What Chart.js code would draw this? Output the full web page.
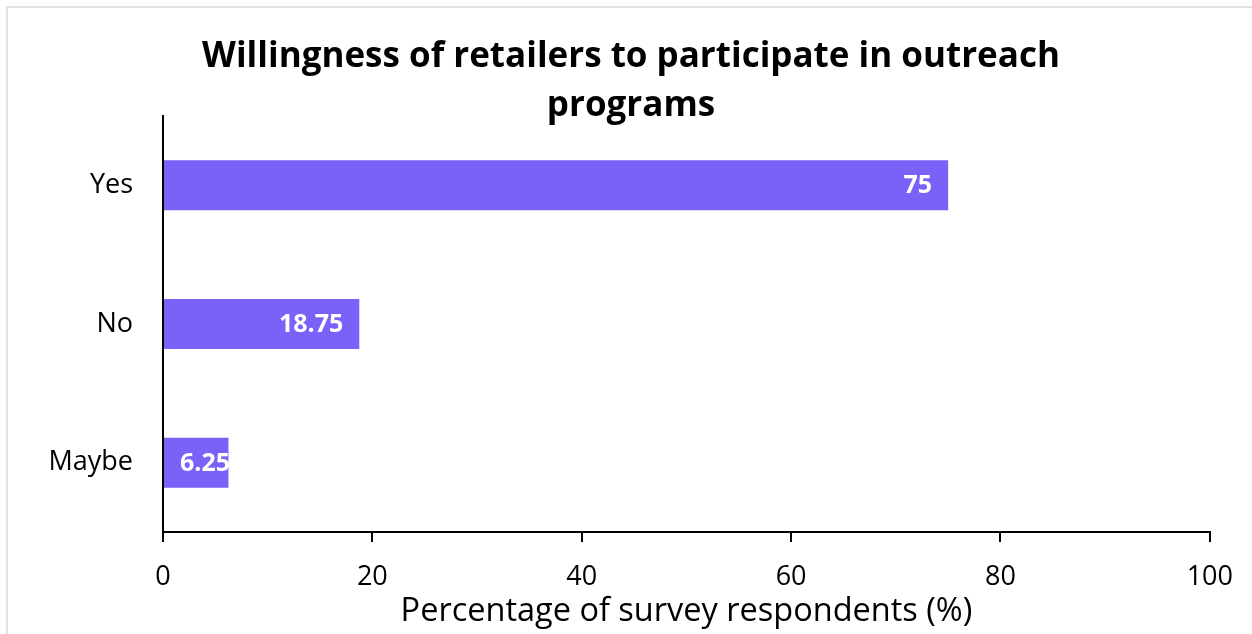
<!DOCTYPE html>
<html>
<head>
<meta charset="utf-8">
<script src="https://cdn.jsdelivr.net/npm/chart.js@4"></script>
<style>
html,body{margin:0;padding:0;background:#fff;}
#wrap{width:1252px;height:634px;position:relative;}
</style>
</head>
<body>
<div id="wrap"><canvas id="c" width="1252" height="634"></canvas></div>
<script>
const titleLines = ['Willingness of retailers to participate in outreach', 'programs'];
const categories = ['Yes', 'No', 'Maybe'];
const values = [75, 18.75, 6.25];
const xMin = 0, xMax = 100, xStep = 20;
const xTitle = 'Percentage of survey respondents (%)';
const barColor = '#7B61F7';
const FONT = '"Open Sans", sans-serif';

const framePlugin = {
  id: 'frame',
  beforeDraw(chart) {
    const ctx = chart.ctx;
    ctx.save();
    ctx.fillStyle = '#fff';
    ctx.fillRect(0, 0, chart.width, chart.height);
    ctx.strokeStyle = '#d9d9d9';
    ctx.lineWidth = 1.5;
    ctx.beginPath();
    ctx.moveTo(7, chart.height);
    ctx.lineTo(7, 7);
    ctx.lineTo(chart.width, 7);
    ctx.stroke();
    ctx.restore();
  },
  afterDraw(chart) {
    const ctx = chart.ctx;
    ctx.save();
    ctx.fillStyle = '#000';
    ctx.font = 'bold 35px ' + FONT;
    ctx.textAlign = 'center';
    ctx.textBaseline = 'alphabetic';
    const cx = 631;
    ctx.fillText(titleLines[0], cx, 67);
    ctx.fillText(titleLines[1], cx, 116);
    ctx.restore();
  }
};

const labelPlugin = {
  id: 'barLabels',
  afterDatasetsDraw(chart) {
    const ctx = chart.ctx;
    const meta = chart.getDatasetMeta(0);
    const pad = 16;
    ctx.save();
    ctx.fillStyle = '#fff';
    ctx.font = 'bold 25px ' + FONT;
    ctx.textBaseline = 'middle';
    meta.data.forEach((bar, i) => {
      const txt = String(values[i]);
      const w = ctx.measureText(txt).width;
      if (bar.x - bar.base - pad >= w + pad) {
        ctx.textAlign = 'right';
        ctx.fillText(txt, bar.x - pad, bar.y + 1);
      } else {
        ctx.textAlign = 'left';
        ctx.fillText(txt, bar.base + pad, bar.y + 1);
      }
    });
    ctx.restore();
  }
};

new Chart(document.getElementById('c'), {
  type: 'bar',
  data: {
    labels: categories,
    datasets: [{
      data: values,
      backgroundColor: barColor,
      borderWidth: 0,
      barPercentage: 0.36,
      categoryPercentage: 1
    }]
  },
  options: {
    indexAxis: 'y',
    responsive: false,
    animation: false,
    devicePixelRatio: 1,
    layout: { padding: { top: 116, right: 42, bottom: 0, left: 0 } },
    plugins: { legend: { display: false }, title: { display: false }, tooltip: { enabled: false } },
    scales: {
      x: {
        min: xMin, max: xMax,
        ticks: { stepSize: xStep, color: '#000', font: { family: FONT, size: 27 }, padding: 19, maxRotation: 0 },
        grid: { display: true, drawOnChartArea: false, drawTicks: true, tickLength: 10, color: '#000', lineWidth: 2 },
        border: { display: true, color: '#000', width: 2 },
        title: { display: true, text: xTitle, color: '#000', font: { family: FONT, size: 32.5 }, padding: { top: 0, bottom: 3 } },
        afterFit(scale) { scale.height = 102; }
      },
      y: {
        ticks: { color: '#000', font: { family: FONT, size: 27 }, padding: 30 },
        grid: { display: false, drawTicks: false },
        border: { display: true, color: '#000', width: 2 },
        afterFit(scale) { scale.width = 163; }
      }
    }
  },
  plugins: [framePlugin, labelPlugin]
});
</script>
</body>
</html>
